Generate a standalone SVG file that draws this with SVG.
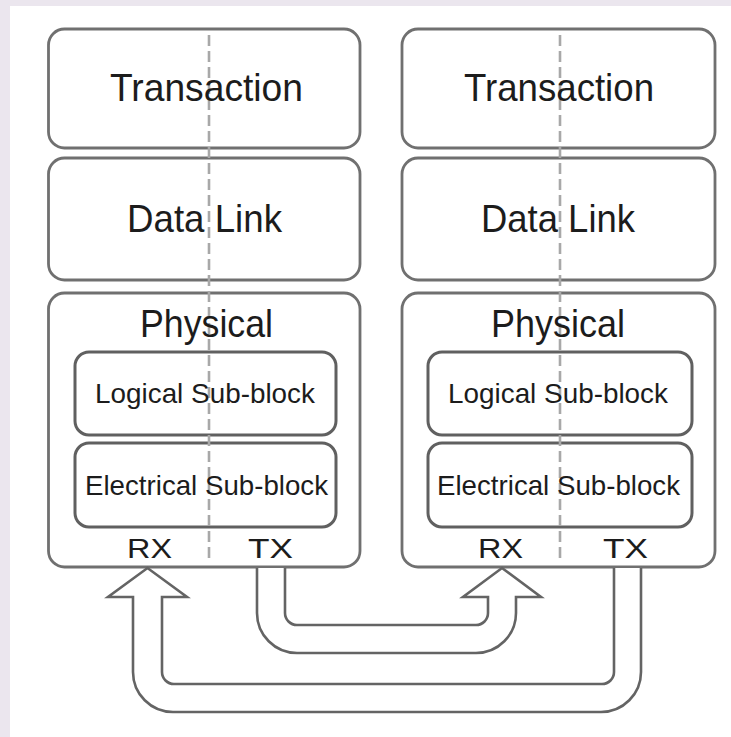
<svg xmlns="http://www.w3.org/2000/svg" width="731" height="737" viewBox="0 0 731 737">
  <style>
    .box { fill: #ffffff; stroke: #707070; stroke-width: 2.8; }
    .sub { fill: #ffffff; stroke: #606060; stroke-width: 3; }
    .dash { stroke: #a8a8a8; stroke-width: 2.6; stroke-dasharray: 11 5; fill: none; }
    .t1 { font-family: "Liberation Sans", Arial, sans-serif; font-size: 39px; fill: #1c1c1c; }
    .t2 { font-family: "Liberation Sans", Arial, sans-serif; font-size: 28px; fill: #1c1c1c; }
    .pipe { fill: #ffffff; stroke: #646464; stroke-width: 2.6; stroke-linejoin: miter; }
  </style>
  <rect x="0" y="0" width="731" height="737" fill="#ebe6ee"/>
  <rect x="10" y="6" width="721" height="731" fill="#ffffff"/>

  <!-- left stack -->
  <g id="left-transaction">
    <rect class="box" x="48.5" y="29" width="311.5" height="119" rx="16"/>
  </g>
  <g id="left-datalink">
    <rect class="box" x="48.5" y="158" width="311.5" height="122" rx="16"/>
  </g>
  <g id="left-physical">
    <rect class="box" x="48.5" y="293" width="311.5" height="274" rx="16"/>
  </g>
  <g id="left-logical">
    <rect class="sub" x="75" y="352" width="261" height="83" rx="14"/>
  </g>
  <g id="left-electrical">
    <rect class="sub" x="75" y="443" width="261" height="84" rx="14"/>
  </g>

  <!-- right stack -->
  <g id="right-transaction">
    <rect class="box" x="402" y="29" width="313" height="119" rx="16"/>
  </g>
  <g id="right-datalink">
    <rect class="box" x="402" y="158" width="313" height="122" rx="16"/>
  </g>
  <g id="right-physical">
    <rect class="box" x="402" y="293" width="313" height="274" rx="16"/>
  </g>
  <g id="right-logical">
    <rect class="sub" x="428" y="352" width="264" height="83" rx="14"/>
  </g>
  <g id="right-electrical">
    <rect class="sub" x="428" y="443" width="264" height="84" rx="14"/>
  </g>

  <!-- RX/TX divider lines -->
  <g id="dividers">
    <line class="dash" x1="209" y1="35" x2="209" y2="560"/>
    <line class="dash" x1="560" y1="35" x2="560" y2="560"/>
  </g>

  <!-- labels -->
  <g id="labels">
    <text class="t1" x="110" y="101" textLength="193" lengthAdjust="spacingAndGlyphs">Transaction</text>
    <text class="t1" x="127" y="232" textLength="155" lengthAdjust="spacingAndGlyphs">Data Link</text>
    <text class="t1" x="140" y="337" textLength="133" lengthAdjust="spacingAndGlyphs">Physical</text>
    <text class="t2" x="95" y="403" textLength="220" lengthAdjust="spacingAndGlyphs">Logical Sub-block</text>
    <text class="t2" x="85" y="495" textLength="243" lengthAdjust="spacingAndGlyphs">Electrical Sub-block</text>
    <text class="t2" x="127" y="558" textLength="45" lengthAdjust="spacingAndGlyphs">RX</text>
    <text class="t2" x="248" y="558" textLength="45" lengthAdjust="spacingAndGlyphs">TX</text>

    <text class="t1" x="464" y="101" textLength="190" lengthAdjust="spacingAndGlyphs">Transaction</text>
    <text class="t1" x="481" y="232" textLength="154" lengthAdjust="spacingAndGlyphs">Data Link</text>
    <text class="t1" x="491" y="337" textLength="134" lengthAdjust="spacingAndGlyphs">Physical</text>
    <text class="t2" x="448" y="403" textLength="220" lengthAdjust="spacingAndGlyphs">Logical Sub-block</text>
    <text class="t2" x="437" y="495" textLength="243" lengthAdjust="spacingAndGlyphs">Electrical Sub-block</text>
    <text class="t2" x="478" y="558" textLength="45" lengthAdjust="spacingAndGlyphs">RX</text>
    <text class="t2" x="603" y="558" textLength="45" lengthAdjust="spacingAndGlyphs">TX</text>
  </g>

  <!-- connectors -->
  <g id="connectors">
    <path id="tx-right-to-rx-left" class="pipe" d="M641,568 V672 A40,40 0 0 1 601,712 H173 A40,40 0 0 1 133,672 V597 H108 L147.5,568 L187,597 H162 V672 A12,12 0 0 0 174,684 H602 A12,12 0 0 0 614,672 V568"/>
    <path id="tx-left-to-rx-right" class="pipe" d="M257,568 V613 A40,40 0 0 0 297,653 H476 A40,40 0 0 0 516,613 V597 H541 L502,568 L463,597 H488 V613 A12,12 0 0 1 476,625 H297 A12,12 0 0 1 285,613 V568"/>
  </g>
</svg>
